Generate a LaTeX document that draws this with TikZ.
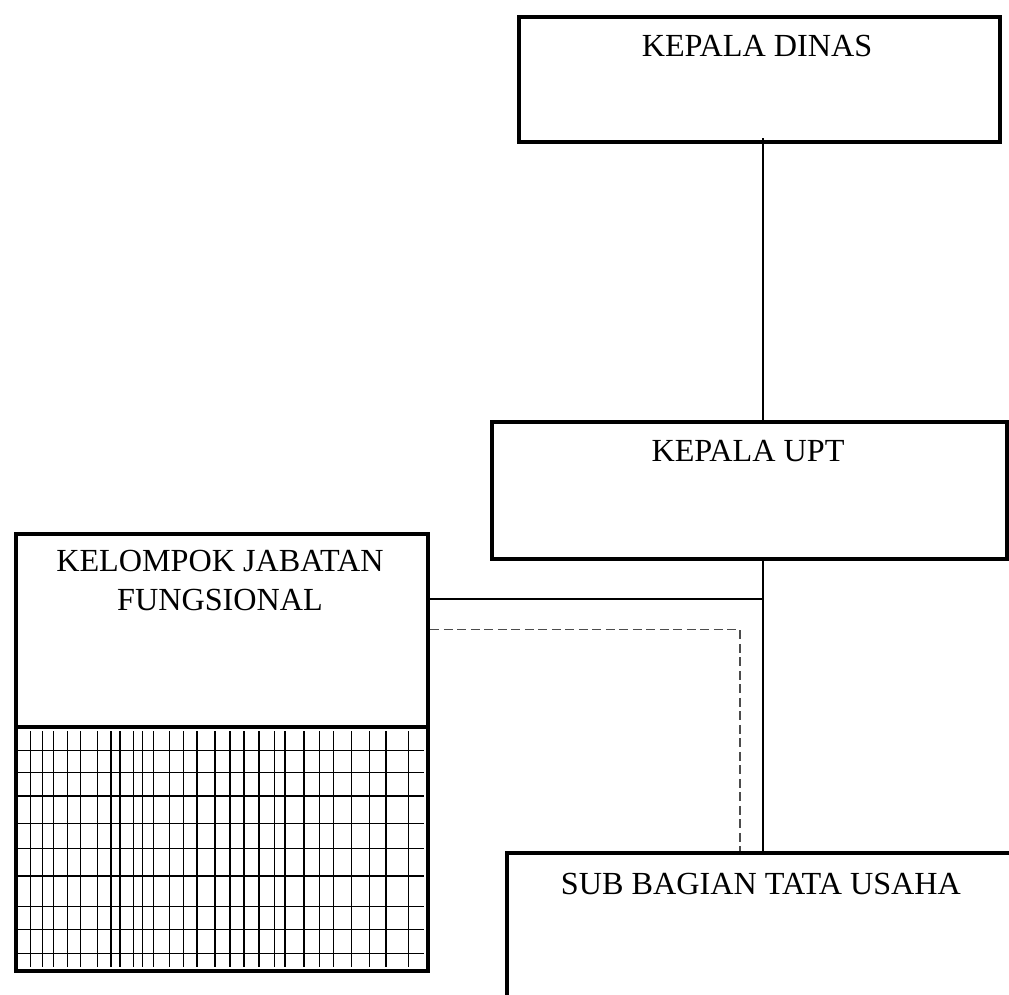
\documentclass[tikz,border=0pt]{standalone}
\usepackage{fontspec}
\setmainfont{Liberation Serif}
\begin{document}
\begin{tikzpicture}[x=1pt,y=-1pt,
  box/.style={draw=black, line width=4.3pt, rectangle, inner sep=0pt, anchor=north west},
  lbl/.style={font=\fontsize{32.2}{38.3}\selectfont, inner sep=0pt, anchor=base, align=center},
  conn/.style={draw=black, line width=1.3pt},
  dconn/.style={draw=black!70, line width=1.4pt, dash pattern=on 9pt off 4.5pt},
  gridline/.style={draw=black, line width=1.4pt}]
\useasboundingbox (0,0) rectangle (1009,994);
\clip (0,0) rectangle (1009,994);
\fill[white] (0,0) rectangle (1009,994);
% boxes
\node[box, minimum width=481pt, minimum height=125pt] (kd) at (517,15) {};
\node[box, minimum width=515pt, minimum height=137pt] (ku) at (490,420) {};
\node[box, minimum width=412pt, minimum height=437pt] (kjf) at (14,532) {};
\node[box, minimum width=530pt, minimum height=220pt] (sb) at (505,851) {};
% labels
\node[lbl] (kdt) at (757,56) {KEPALA DINAS};
\node[lbl] (kut) at (748,461) {KEPALA UPT};
\node[lbl] (kjft) at (220,610) {KELOMPOK JABATAN\\FUNGSIONAL};
\node[lbl] (sbt) at (761,894) {SUB BAGIAN TATA USAHA};
% divider and grid in the functional group box
\coordinate (dv) at (0,727);
\draw[line width=4.3pt] (kjf.west |- dv) -- (kjf.east |- dv);
\foreach \gx in {30.7,42.7,53.3,67.3,80.3,97.3,111,120,133.7,142.7,153.3,169.7,183.3,197,215,230,244,259,274.7,285,304,319.3,333.3,351.3,369.3,386,408.7}
  \draw[gridline] (\gx,731) -- (\gx,967);
\foreach \gy in {750.7,772.7,796,823.7,848.7,876,906.7,929.3,953.3}
  \draw[gridline] (16,\gy) -- (424,\gy);
% connectors
\coordinate (spine) at (763,0);
\coordinate (hs) at (0,599);
\coordinate (hd) at (0,629.5);
\coordinate (dx) at (740,0);
\draw[conn] ([yshift=6pt]kd.south -| spine) -- (ku.north -| spine);
\draw[conn] (ku.south -| spine) -- (sb.north -| spine);
\draw[conn] (kjf.east |- hs) -- (spine |- hs);
\draw[dconn] (kjf.east |- hd) -- (dx |- hd) -- (dx |- sb.north);
\end{tikzpicture}
\end{document}
